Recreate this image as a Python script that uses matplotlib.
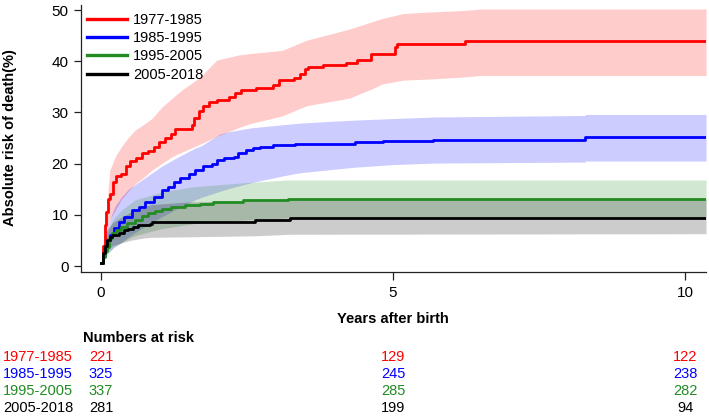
import matplotlib
matplotlib.use("Agg")
import matplotlib.pyplot as plt
from matplotlib.transforms import blended_transform_factory

plt.rcParams['font.family'] = ['Liberation Sans', 'DejaVu Sans']

groups = ["1977-1985", "1985-1995", "1995-2005", "2005-2018"]
colors = ["#FF0000", "#0000FF", "#228B22", "#000000"]

# Kaplan-Meier style cumulative risk (step, post)
red_t = [0, 0.03, 0.06, 0.09, 0.12, 0.16, 0.2, 0.25, 0.35, 0.42, 0.5, 0.6, 0.7, 0.8, 0.9, 1.0,
         1.1, 1.2, 1.27, 1.55, 1.6, 1.68, 1.75, 1.85, 1.98, 2.2, 2.3, 2.4, 2.65, 2.95, 3.05,
         3.3, 3.4, 3.5, 3.55, 3.8, 4.2, 4.38, 4.63, 5.03, 5.06, 6.23, 10.36]
red_v = [0.5, 4, 8, 10.5, 13, 14, 16.5, 17.5, 18, 19.5, 20.5, 21, 22, 22.5, 23.3, 24.3,
         25, 25.7, 26.8, 27.5, 29, 30.3, 31.2, 32, 32.5, 33, 33.7, 34.4, 34.8, 35.4, 36.3,
         36.7, 37.5, 38.5, 38.9, 39.3, 39.6, 40.3, 41.5, 42.8, 43.4, 43.9, 43.9]

blue_t = [0, 0.03, 0.06, 0.1, 0.15, 0.22, 0.3, 0.4, 0.53, 0.65, 0.75, 0.9, 1.04, 1.15, 1.25,
          1.35, 1.5, 1.61, 1.75, 1.9, 1.98, 2.1, 2.27, 2.35, 2.49, 2.6, 2.72, 2.95, 3.32,
          4.35, 4.83, 5.69, 8.29, 10.36]
blue_v = [0.5, 2, 3.5, 5, 6, 7.5, 8.5, 9.5, 10.9, 11.5, 12.5, 13.5, 14.8, 15.5, 16.5,
          17.1, 18, 18.7, 19.5, 20, 20.7, 21, 21.3, 22, 22.6, 23, 23.3, 23.6, 23.9,
          24.2, 24.4, 24.7, 25.1, 25.1]

green_t = [0, 0.03, 0.06, 0.1, 0.14, 0.18, 0.25, 0.35, 0.45, 0.58, 0.7, 0.81, 0.92, 1.04,
           1.2, 1.44, 1.7, 1.92, 2.44, 3.21, 10.36]
green_v = [0.5, 1.8, 3, 3.8, 5.5, 6.4, 7, 7.7, 8.4, 9, 9.7, 10.3, 10.8, 11.2,
           11.5, 11.9, 12.2, 12.5, 12.9, 13.1, 13.1]

black_t = [0, 0.03, 0.06, 0.1, 0.15, 0.18, 0.3, 0.4, 0.47, 0.55, 0.64, 0.84, 0.87, 2.64, 3.24, 10.36]
black_v = [0.5, 2.5, 4, 5.1, 5.7, 6, 6.4, 7, 7.3, 7.7, 8.0, 8.3, 8.5, 8.9, 9.3, 9.3]

# Confidence bands
red_ci_t = [0, 0.05, 0.1, 0.15, 0.25, 0.35, 0.46, 0.58, 0.75, 0.87, 1.04, 1.24, 1.4, 1.7, 1.98,
            2.35, 2.55, 3.1, 3.52, 4.26, 4.72, 4.8, 5.17, 5.6, 6.2, 6.5, 10.36]
red_lo = [0.3, 3, 7, 9, 11, 13, 14.5, 16, 17.5, 18.7, 20, 21.5, 22.3, 23.8, 25.3,
          27, 27.8, 29.3, 31.3, 32.8, 35, 35.5, 36.3, 36.5, 36.9, 37.2, 37.2]
red_hi = [0.5, 6, 12, 18.7, 21.5, 23.3, 25, 26.5, 27.8, 28.8, 31, 33, 34.5, 36.9, 40.2,
          41.2, 41.5, 42.1, 44.1, 46.3, 48, 48.3, 49.3, 49.6, 49.9, 50.2, 50.2]

blue_ci_t = [0, 0.1, 0.18, 0.24, 0.35, 0.47, 0.75, 1.04, 1.32, 1.61, 1.72, 2.04, 2.18, 2.58,
             3.12, 3.4, 4.0, 4.35, 5.0, 5.7, 8.29, 8.3, 10.36]
blue_lo = [0.3, 2.5, 3.2, 3.8, 4.6, 5.7, 7.7, 9.6, 11.3, 12.9, 13.4, 14.6, 15.1, 16.3,
           17.6, 18.2, 18.9, 19.3, 19.8, 20.1, 20.3, 20.5, 20.5]
blue_hi = [0.5, 7, 10, 11.7, 13.5, 15, 17.2, 19.5, 21.3, 23, 23.5, 25.8, 26.2, 27,
           27.6, 27.9, 28.3, 28.5, 28.8, 29.1, 29.4, 29.6, 29.6]

green_ci_t = [0, 0.1, 0.2, 0.35, 0.5, 0.58, 1.0, 1.04, 1.6, 2.5, 2.64, 3.2, 10.36]
green_lo = [0.3, 2, 3.5, 4.6, 5.5, 5.9, 7.2, 7.3, 8.3, 9.0, 9.1, 9.4, 9.4]
green_hi = [0.5, 6, 9, 10.9, 12.2, 12.9, 14.3, 14.5, 15.5, 16.3, 16.4, 16.8, 16.8]

black_ci_t = [0, 0.1, 0.2, 0.5, 0.75, 0.87, 1.5, 2.64, 3.24, 10.36]
black_lo = [0.3, 3, 4, 5, 5.5, 5.6, 5.7, 5.9, 6.2, 6.3]
black_hi = [0.5, 7, 8.5, 10.5, 11.6, 12, 12.5, 12.8, 13.1, 13.1]

# Numbers at risk
risk_times = [0, 5, 10]
risk_1977 = [221, 129, 122]
risk_1985 = [325, 245, 238]
risk_1995 = [337, 285, 282]
risk_2005 = [281, 199, 94]

W, H = 709, 417
fig = plt.figure(figsize=(W / 100, H / 100), dpi=100)
ax = fig.add_axes([81 / W, 1 - 272 / H, (706 - 81) / W, (272 - 5) / H])

curves = [(red_t, red_v), (blue_t, blue_v), (green_t, green_v), (black_t, black_v)]
bands = [(red_ci_t, red_lo, red_hi), (blue_ci_t, blue_lo, blue_hi),
         (green_ci_t, green_lo, green_hi), (black_ci_t, black_lo, black_hi)]

for (bt, lo, hi), c in zip(bands, colors):
    ax.fill_between(bt, lo, hi, color=c, alpha=0.2, linewidth=0, zorder=1)

lines = []
for (t, v), c, g in zip(curves, colors, groups):
    ln, = ax.step(t, v, where='post', color=c, linewidth=2.0, zorder=3, label=g)
    lines.append(ln)

ax.set_xlim(-20 / 58.4, 605 / 58.4)
ax.set_ylim(-6 / 5.12, 261 / 5.12)
ax.set_xticks([0, 5, 10])
ax.set_yticks([0, 10, 20, 30, 40, 50])
ax.spines['top'].set_visible(False)
ax.spines['right'].set_visible(False)
for s in ('left', 'bottom'):
    ax.spines[s].set_linewidth(0.9)
    ax.spines[s].set_color('#222222')
ax.tick_params(axis='both', labelsize=11, color='#222222', width=0.9)
ax.tick_params(axis='y', length=5.2, pad=3.8)
ax.tick_params(axis='x', length=5.8, pad=4.0)

leg = ax.legend(handles=lines, loc='upper left', frameon=False, fontsize=10.5,
                handlelength=2.75, handletextpad=0.4, labelspacing=0.29,
                borderpad=0, borderaxespad=0,
                bbox_to_anchor=((87 - 81) / 625, 1 - (13 - 5) / 267))
for lh in leg.get_lines():
    lh.set_linewidth(2.4)

fig.text(10 / W, 1 - 138 / H, "Absolute risk of death(%)", rotation=90,
         ha='center', va='center', fontsize=10.5, fontweight='bold')

trans = blended_transform_factory(ax.transData, fig.transFigure)
ax.text(5, 1 - 319 / H, "Years after birth", transform=trans, ha='center', va='center',
        fontsize=10.5, fontweight='bold')
fig.text(83 / W, 1 - 338 / H, "Numbers at risk", ha='left', va='center',
         fontsize=10.5, fontweight='bold')

rows = [risk_1977, risk_1985, risk_1995, risk_2005]
row_y = [357, 374, 391, 408]
for g, c, r, yp in zip(groups, colors, rows, row_y):
    fig.text(3 / W, 1 - yp / H, g, color=c, ha='left', va='center', fontsize=10.5)
    for tt, n in zip(risk_times, r):
        ax.text(tt, 1 - yp / H, str(n), color=c, transform=trans, ha='center',
                va='center', fontsize=10.5, clip_on=False)

fig.savefig("out.png", dpi=100)
